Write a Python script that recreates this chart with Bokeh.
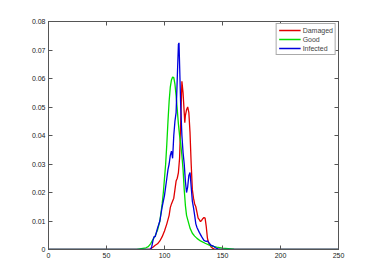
from bokeh.plotting import figure
from bokeh.models import LinearAxis, FixedTicker, Range1d, Legend, LegendItem
from bokeh.embed import file_html
from bokeh.resources import INLINE

# Damaged
dam_x = [0, 87, 90, 92, 94, 96, 98, 100, 102, 104, 105, 106, 108, 109, 110, 111, 112, 113, 114, 115,
         116, 117, 117.5, 118, 119, 120, 121, 122, 123, 124, 125, 126, 127, 128, 129, 130, 131, 132,
         133, 134, 135, 136, 137, 138, 139, 140, 142, 144, 255]
dam_y = [0, 0, 0.0008, 0.0015, 0.002, 0.003, 0.0045, 0.0065, 0.009, 0.012, 0.0147, 0.016, 0.018,
         0.021, 0.024, 0.025, 0.027, 0.032, 0.045, 0.059, 0.055, 0.048, 0.0445, 0.047, 0.049, 0.050,
         0.048, 0.041, 0.030, 0.021, 0.018, 0.016, 0.015, 0.013, 0.011, 0.0105, 0.0098, 0.0102,
         0.0108, 0.0112, 0.011, 0.008, 0.004, 0.0024, 0.0018, 0.001, 0.0003, 0, 0]

# Good
good_x = [0, 76, 80, 84, 86, 88, 90, 92, 94, 96, 98, 99, 100, 101, 102, 103, 104, 105, 106, 107,
          108, 109, 110, 111, 112, 113, 114, 115, 116, 117, 118, 119, 120, 122, 124, 126, 128, 131,
          135, 140, 145, 150, 155, 160, 167, 255]
good_y = [0, 0, 0.0003, 0.0006, 0.001, 0.002, 0.0035, 0.0048, 0.0068, 0.010, 0.016, 0.020, 0.025,
          0.030, 0.037, 0.045, 0.052, 0.057, 0.0595, 0.0605, 0.0603, 0.058, 0.054, 0.049, 0.044,
          0.040, 0.037, 0.033, 0.028, 0.021, 0.0155, 0.012, 0.0105, 0.0075, 0.0057, 0.0047, 0.0039,
          0.003, 0.0022, 0.0013, 0.0008, 0.0005, 0.0003, 0.0001, 0, 0]

# Infected
inf_x = [0, 88, 89, 90, 91, 92, 93, 94, 96, 98, 100, 101, 102, 103, 104, 105, 106, 107, 107.5, 108,
         109, 110, 111, 112, 112.5, 113, 114, 115, 116, 117, 118, 119, 120, 121, 122, 123, 124, 125,
         126, 127, 128, 130, 132, 134, 136, 137, 138, 140, 142, 144, 146, 148, 255]
inf_y = [0, 0, 0.001, 0.003, 0.0045, 0.0045, 0.006, 0.0075, 0.010, 0.015, 0.019, 0.022, 0.025,
         0.028, 0.030, 0.033, 0.0345, 0.032, 0.036, 0.040, 0.045, 0.048, 0.060, 0.072, 0.0725,
         0.065, 0.050, 0.040, 0.034, 0.030, 0.024, 0.020, 0.022, 0.026, 0.027, 0.022, 0.017,
         0.0147, 0.012, 0.009, 0.0077, 0.006, 0.0045, 0.0032, 0.0028, 0.003, 0.0025, 0.0015,
         0.0012, 0.0006, 0.0002, 0, 0]

x_ticks = [0, 50, 100, 150, 200, 250]
y_ticks = [0, 0.01, 0.02, 0.03, 0.04, 0.05, 0.06, 0.07, 0.08]

FONT = "Liberation Sans"
AX = "#555555"

p = figure(frame_width=290, frame_height=228, output_backend="svg", toolbar_location=None,
           x_range=Range1d(0, 250), y_range=Range1d(0, 0.08),
           x_axis_location=None, y_axis_location=None,
           min_border_left=48, min_border_top=21, min_border_right=20, min_border_bottom=16)
p.background_fill_color = "white"
p.border_fill_color = "white"
p.outline_line_color = AX
p.xgrid.visible = False
p.ygrid.visible = False


def mk_axis(ticks, labels):
    ax = LinearAxis(ticker=FixedTicker(ticks=ticks))
    ax.major_tick_in = 4
    ax.major_tick_out = 0
    ax.minor_tick_line_color = None
    ax.axis_line_color = AX
    ax.major_tick_line_color = AX
    ax.major_label_text_font = FONT
    ax.major_label_text_font_size = "7px"
    ax.major_label_text_color = "#222222" if labels else None
    ax.major_label_standoff = 3 if labels else 0
    return ax


bx = mk_axis(x_ticks, True)
ly = mk_axis(y_ticks, True)
ly.major_label_overrides = {0: "0"}
tx = mk_axis(x_ticks, False)
ry = mk_axis(y_ticks, False)
p.add_layout(bx, "below")
p.add_layout(ly, "left")
p.add_layout(tx, "above")
p.add_layout(ry, "right")

r1 = p.line(dam_x, dam_y, line_color="#e00000", line_width=1.3)
r2 = p.line(good_x, good_y, line_color="#00dd00", line_width=1.3)
r3 = p.line(inf_x, inf_y, line_color="#0000dd", line_width=1.3)

leg = Legend(items=[LegendItem(label="Damaged", renderers=[r1]),
                    LegendItem(label="Good", renderers=[r2]),
                    LegendItem(label="Infected", renderers=[r3])],
             location="top_right")
leg.label_text_font = FONT
leg.label_text_font_size = "7px"
leg.label_height = 8
leg.glyph_height = 8
leg.glyph_width = 22
leg.spacing = 1
leg.padding = 2
leg.margin = 2
leg.label_standoff = 2
leg.border_line_color = AX
leg.background_fill_alpha = 1.0
p.add_layout(leg)

open("out.html", "w").write(file_html(p, INLINE))
